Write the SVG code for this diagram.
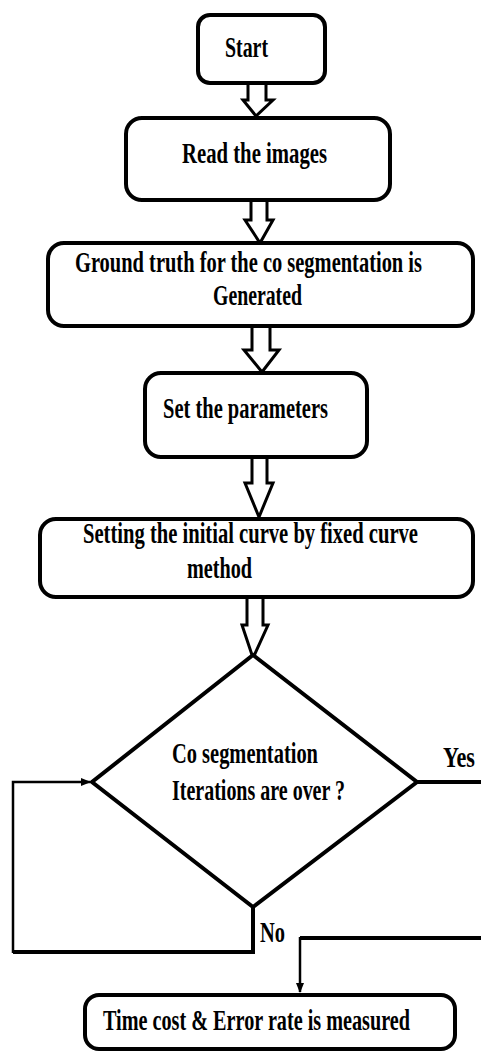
<svg xmlns="http://www.w3.org/2000/svg" width="481" height="1052" viewBox="0 0 481 1052">
<defs>
<style>
.box{fill:#fff;stroke:#000;stroke-width:4}
.t{font-family:"Liberation Serif","Times New Roman",serif;font-weight:bold;font-size:30px;fill:#000}
.blk{fill:#fff;stroke:#000;stroke-width:3;stroke-linejoin:miter}
.thick{fill:none;stroke:#000;stroke-width:4}
.thin{fill:none;stroke:#000;stroke-width:2.5}
</style>
<marker id="ah" markerWidth="10" markerHeight="8" refX="9" refY="4" orient="auto" markerUnits="userSpaceOnUse">
<path d="M0,0 L10,4 L0,8 Z" fill="#000"/>
</marker>
</defs>
<rect width="481" height="1052" fill="#fff"/>
<g id="connectors">
<path class="blk" d="M248,83 V100 H243 L256,116 L273,100 H266 V83"/>
<path class="blk" d="M251,201 V220 H245 L260,243 L273,220 H267 V201"/>
<path class="blk" d="M252,327 V350 H244 L262,372 L279,350 H270 V327"/>
<path class="blk" d="M252,458 V483 H245 L259,517 L273,483 H267 V458"/>
<path class="blk" d="M247,598 V625 H242 L253,658 L268,625 H263 V598"/>
<path class="thick" d="M417,782 H481"/>
<path class="thick" d="M253,907 V952 H13"/>
<path class="thin" d="M13,953 V782 H90" marker-end="url(#ah)"/>
<path class="thick" d="M481,938 H300"/>
<path class="thin" d="M300,937 V992" marker-end="url(#ah)"/>
</g>
<g id="start"><rect class="box" x="198" y="15" width="127" height="68" rx="12"/><text class="t" x="225" y="57" textLength="43" lengthAdjust="spacingAndGlyphs">Start</text></g>
<g id="read"><rect class="box" x="126" y="118" width="264" height="82" rx="16"/><text class="t" x="182" y="163" textLength="145" lengthAdjust="spacingAndGlyphs">Read the images</text></g>
<g id="ground"><rect class="box" x="48" y="243" width="425" height="83" rx="16"/><text class="t" x="75" y="272" textLength="347" lengthAdjust="spacingAndGlyphs">Ground truth for the co segmentation is</text><text class="t" x="213" y="305" textLength="89" lengthAdjust="spacingAndGlyphs">Generated</text></g>
<g id="params"><rect class="box" x="145" y="373" width="222" height="84" rx="16"/><text class="t" x="163" y="418" textLength="165" lengthAdjust="spacingAndGlyphs">Set the parameters</text></g>
<g id="curve"><rect class="box" x="40" y="519" width="433" height="78" rx="16"/><text class="t" x="83" y="543" textLength="335" lengthAdjust="spacingAndGlyphs">Setting the initial curve by fixed curve</text><text class="t" x="187" y="578" textLength="65" lengthAdjust="spacingAndGlyphs">method</text></g>
<g id="decision"><path class="box" d="M253,655 L417,782 L253,907 L92,782 Z"/><text class="t" x="172" y="763" textLength="146" lengthAdjust="spacingAndGlyphs">Co segmentation</text><text class="t" x="172" y="800" textLength="173" lengthAdjust="spacingAndGlyphs">Iterations are over ?</text></g>
<g id="labels"><text class="t" x="443" y="767" textLength="32" lengthAdjust="spacingAndGlyphs">Yes</text><text class="t" x="260" y="942" textLength="25" lengthAdjust="spacingAndGlyphs">No</text></g>
<g id="measure"><rect class="box" x="85" y="995" width="370" height="54" rx="14"/><text class="t" x="103" y="1030" textLength="307" lengthAdjust="spacingAndGlyphs">Time cost &amp; Error rate is measured</text></g>
</svg>
